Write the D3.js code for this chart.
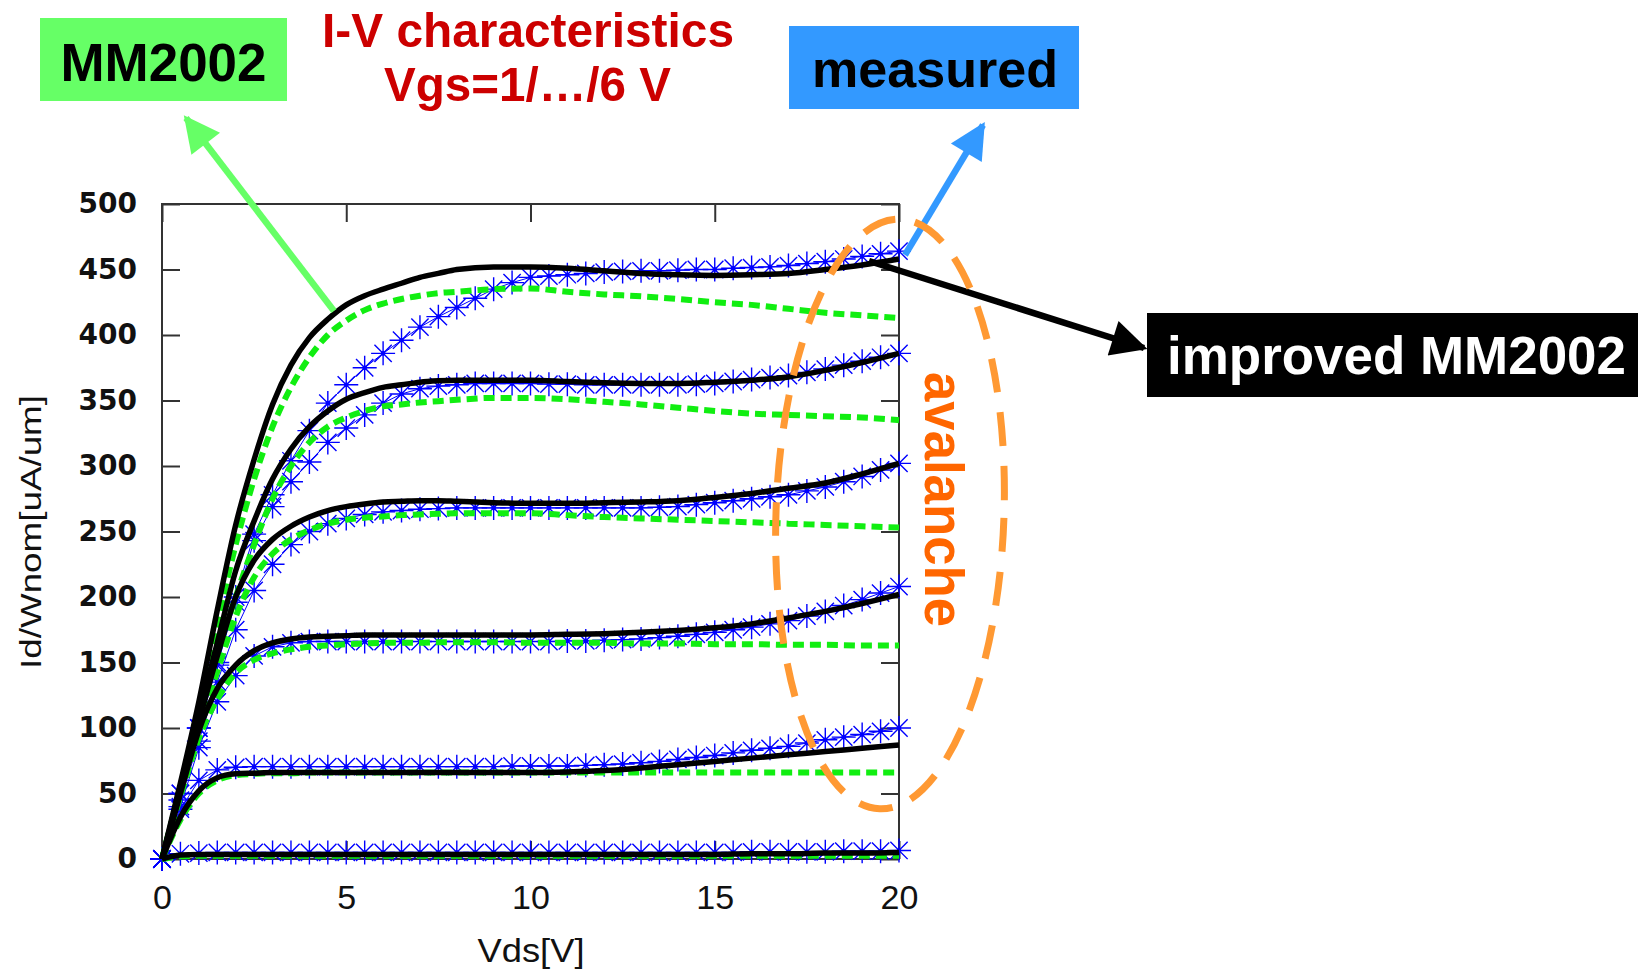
<!DOCTYPE html>
<html>
	<head>
		<title>I-V characteristics, MM2002 vs measured</title>
		<style>
* {
	margin: 0;
	padding: 0;
}
html,
body {
	width: 100%;
	height: 100%;
	background-color: #ffffff;
}
svg {
	display: block;
}
		</style>
	</head>
	<body>
		<div id="chart"></div>
		<script src="https://cdn.jsdelivr.net/npm/d3@7/dist/d3.min.js"></script>
		<script>

// measured points, every 0.5 V
var vdsMeas = [
	0, 0.5, 1, 1.5, 2, 2.5, 3, 3.5, 4, 4.5,
	5, 5.5, 6, 6.5, 7, 7.5, 8, 8.5, 9, 9.5,
	10, 10.5, 11, 11.5, 12, 12.5, 13, 13.5, 14, 14.5,
	15, 15.5, 16, 16.5, 17, 17.5, 18, 18.5, 19, 19.5, 20
];
var meas1 = [0, 4, 4.5, 5, 5, 5, 5, 5, 5, 5, 5, 5, 5, 5, 5, 5, 5, 5, 5, 5, 5, 5, 5, 5, 5, 5, 5, 5, 5, 5, 5, 5, 5.5, 5.5, 5.5, 5.5, 5.5, 6, 6, 6, 6.5];
var meas2 = [0, 38, 60, 68, 70, 70.5, 70.5, 70.5, 70.5, 70.5, 70.5, 70.5, 70.5, 70.5, 70.5, 70.5, 70.5, 70.5, 70.5, 71, 71, 71, 71, 71.5, 72, 72.5, 73.5, 74.5, 76, 77.5, 79, 81, 83, 84.5, 86, 88.5, 91, 93, 95, 97.5, 100];
var meas3 = [0, 40, 85, 120, 140, 155, 162, 165, 166, 166, 166, 166, 166, 166, 166, 166, 166, 166, 166, 166, 166, 166, 166.5, 166.5, 167, 167.5, 168, 169, 170, 171.5, 173, 175, 177, 179.5, 182, 185.5, 189, 193.5, 198, 203, 208];
var meas4 = [0, 45, 90, 135, 175, 205, 225, 240, 250, 256, 260, 263, 265, 266, 267, 267.5, 268, 268, 268, 268, 268, 268, 268, 268, 268, 268, 268, 268.5, 269, 270.5, 272, 273.5, 275, 276.5, 278, 281, 284, 288, 292, 297, 302];
var meas5 = [0, 50, 100, 148, 196, 243, 269, 288, 303, 318, 329, 339, 348, 355, 359, 361, 362, 363, 363, 363, 363, 362.5, 362.5, 362, 362, 362, 362, 362, 362, 362.5, 363, 364.5, 366, 367.5, 369, 371.5, 374, 377, 380, 383, 386];
var meas6 = [0, 50, 100, 150, 200, 248, 278, 304, 327, 348, 362, 375, 386, 396, 406, 414, 421, 428, 435, 440, 444, 445, 446, 447, 448, 448.5, 449, 449, 449.5, 450, 450, 451, 451.5, 452, 453, 454.5, 456, 458, 460, 462, 464];

// model curves
var vdsModel = [0, 0.5, 1, 1.5, 2, 2.5, 3, 3.5, 4, 4.5, 5, 5.5, 6, 6.5, 7, 7.5, 8, 9, 10, 11, 12, 13, 14, 15, 16, 17, 18, 19, 20];

var mm1 = [0, 2, 2.5, 2.5, 2.5, 2.5, 2.5, 2.5, 2.5, 2.5, 2.5, 2.5, 2.5, 2.5, 2.5, 2.5, 2.5, 2.5, 2.5, 2.5, 2.5, 2.5, 2.5, 2.5, 2.5, 2.5, 2.5, 2.5, 2.5];
var mm2 = [0, 30, 50, 60, 64, 65, 65.5, 65.5, 66, 66, 66, 66, 66, 66, 66, 66, 66, 66, 66, 66, 66, 66, 66, 66, 66, 66, 66, 66, 66];
var mm3 = [0, 48, 92, 122, 142, 152, 157, 160, 162, 163, 164, 164.5, 165, 165, 165, 165.5, 165.5, 165.5, 165, 165, 165, 164.5, 164.5, 164, 164, 163.5, 163.5, 163, 163];
var mm4 = [0, 50, 98, 143, 185, 215, 233, 244, 251, 256, 259, 260.5, 261.5, 262.5, 263, 263.5, 264, 264, 264, 262.5, 261, 260, 259, 258, 257, 256, 255, 254, 253];
var mm5 = [0, 53, 105, 155, 200, 240, 275, 300, 318, 330, 337, 342, 345.5, 347, 348.5, 349.5, 350.5, 352, 352, 351, 349, 347, 344.5, 342, 340, 339, 338, 337, 335];
var mm6 = [0, 55, 115, 180, 240, 290, 330, 360, 383, 400, 411, 419, 424, 427.5, 430, 432, 433, 435, 435.5, 433, 431, 429.5, 427.5, 425, 423, 420, 417, 415, 413];

var imp1 = [0, 3, 3.5, 3.5, 3.5, 3.5, 3.5, 3.5, 3.5, 3.5, 3.5, 3.5, 3.5, 3.5, 3.5, 3.5, 3.5, 3.5, 3.5, 3.5, 3.5, 3.5, 3.5, 3.5, 4, 4, 4.5, 4.5, 5];
var imp2 = [0, 32, 52, 62, 65, 65.5, 66, 66, 66, 66, 66, 66, 66, 66, 66, 66, 66, 66, 66, 66.5, 67.5, 69.5, 72, 74.5, 77, 79.5, 82, 84.5, 87];
var imp3 = [0, 50, 98, 130, 148, 159, 165, 168, 169.5, 170, 170.5, 171, 171, 171, 171, 171, 171, 171, 171, 171.5, 172, 173, 174.5, 176.5, 179.5, 184, 189, 195, 202];
var imp4 = [0, 52, 105, 155, 200, 228, 244, 254, 261, 266, 269, 271, 272.5, 273, 273.5, 273.5, 273, 272, 271.5, 271.5, 272, 272.5, 273.5, 276, 279, 283, 287, 294, 302];
var imp5 = [0, 55, 110, 165, 220, 258, 290, 313, 330, 342, 351, 356, 360, 362, 364, 365, 365.5, 365.5, 365.5, 364.5, 363.5, 363, 363, 364, 365.5, 368, 373, 379, 386];
var imp6 = [0, 58, 120, 190, 255, 305, 347, 377, 398, 412, 423, 430, 435, 439.5, 444, 447, 450, 452, 452, 451, 449, 447, 446, 445.5, 446, 447, 450, 453.5, 458];

var measured = [ meas1, meas2, meas3, meas4, meas5, meas6 ];
var mm2002 = [ mm1, mm2, mm3, mm4, mm5, mm6 ];
var improved = [ imp1, imp2, imp3, imp4, imp5, imp6 ];

var xTicks = [ 0, 5, 10, 15, 20 ];
var yTicks = [ 0, 50, 100, 150, 200, 250, 300, 350, 400, 450, 500 ];

var width = 1638;
var height = 974;
var plot = { left: 162, right: 899, top: 204, bottom: 859 };

var x = d3.scaleLinear().domain( [ 0, 20 ] ).range( [ plot.left, plot.right ] );
var y = d3.scaleLinear().domain( [ 0, 500 ] ).range( [ plot.bottom, plot.top ] );

var svg = d3.select( '#chart' ).append( 'svg' )
	.attr( 'width', width )
	.attr( 'height', height );

// gnuplot style asterisk: plus and cross
var asterisk = {
	draw: function ( context, size ) {
		var r = Math.sqrt( size ) / 2;
		var d = r * 0.72;
		context.moveTo( -r, 0 ); context.lineTo( r, 0 );
		context.moveTo( 0, -r ); context.lineTo( 0, r );
		context.moveTo( -d, -d ); context.lineTo( d, d );
		context.moveTo( -d, d ); context.lineTo( d, -d );
	}
};

// axes: inward ticks on all four sides
var axisColor = '#333333';

svg.append( 'g' )
	.attr( 'transform', 'translate(' + plot.left + ',0)' )
	.call( d3.axisLeft( y ).tickValues( yTicks ).tickSize( -18 ).tickSizeOuter( 0 ).tickPadding( 25 ) )
	.call( function ( g ) {
		g.select( '.domain' ).remove();
		g.selectAll( 'line' ).attr( 'stroke', axisColor ).attr( 'stroke-width', 2 );
		g.selectAll( 'text' )
			.attr( 'fill', '#111' )
			.style( 'font-family', '"DejaVu Sans", sans-serif' )
			.style( 'font-size', '28px' )
			.style( 'font-weight', 'bold' );
	} );

svg.append( 'g' )
	.attr( 'transform', 'translate(' + plot.right + ',0)' )
	.call( d3.axisRight( y ).tickValues( yTicks ).tickSize( -18 ).tickSizeOuter( 0 ).tickFormat( '' ) )
	.call( function ( g ) {
		g.select( '.domain' ).remove();
		g.selectAll( 'line' ).attr( 'stroke', axisColor ).attr( 'stroke-width', 2 );
	} );

svg.append( 'g' )
	.attr( 'transform', 'translate(0,' + plot.bottom + ')' )
	.call( d3.axisBottom( x ).tickValues( xTicks ).tickSize( -18 ).tickSizeOuter( 0 ).tickPadding( 26 ) )
	.call( function ( g ) {
		g.select( '.domain' ).remove();
		g.selectAll( 'line' ).attr( 'stroke', axisColor ).attr( 'stroke-width', 2 );
		g.selectAll( 'text' )
			.attr( 'fill', '#111' )
			.style( 'font-family', '"Liberation Sans", Arial, sans-serif' )
			.style( 'font-size', '34px' );
	} );

svg.append( 'g' )
	.attr( 'transform', 'translate(0,' + plot.top + ')' )
	.call( d3.axisTop( x ).tickValues( xTicks ).tickSize( -18 ).tickSizeOuter( 0 ).tickFormat( '' ) )
	.call( function ( g ) {
		g.select( '.domain' ).remove();
		g.selectAll( 'line' ).attr( 'stroke', axisColor ).attr( 'stroke-width', 2 );
	} );

svg.append( 'rect' )
	.attr( 'x', plot.left )
	.attr( 'y', plot.top )
	.attr( 'width', plot.right - plot.left )
	.attr( 'height', plot.bottom - plot.top )
	.attr( 'fill', 'none' )
	.attr( 'stroke', axisColor )
	.attr( 'stroke-width', 2 );

// axis titles
svg.append( 'text' )
	.attr( 'transform', 'translate(41,532) rotate(-90)' )
	.attr( 'text-anchor', 'middle' )
	.attr( 'textLength', 274 )
	.attr( 'lengthAdjust', 'spacingAndGlyphs' )
	.style( 'font-family', '"Liberation Sans", Arial, sans-serif' )
	.style( 'font-size', '30px' )
	.attr( 'fill', '#111' )
	.text( 'Id/Wnom[uA/um]' );

svg.append( 'text' )
	.attr( 'x', 531 )
	.attr( 'y', 962 )
	.attr( 'text-anchor', 'middle' )
	.attr( 'textLength', 107 )
	.attr( 'lengthAdjust', 'spacingAndGlyphs' )
	.style( 'font-family', '"Liberation Sans", Arial, sans-serif' )
	.style( 'font-size', '34px' )
	.attr( 'fill', '#111' )
	.text( 'Vds[V]' );

// series
var measLine = d3.line()
	.x( function ( d, i ) { return x( vdsMeas[i] ); } )
	.y( function ( d ) { return y( d ); } );

var modelLine = d3.line()
	.x( function ( d, i ) { return x( vdsModel[i] ); } )
	.y( function ( d ) { return y( d ); } )
	.curve( d3.curveMonotoneX );

var measG = svg.append( 'g' ).attr( 'class', 'measured' );

measG.selectAll( 'path.meas-line' )
	.data( measured )
	.enter()
	.append( 'path' )
	.attr( 'class', 'meas-line' )
	.attr( 'd', measLine )
	.attr( 'fill', 'none' )
	.attr( 'stroke', '#0000ff' )
	.attr( 'stroke-width', 1 );

var symbol = d3.symbol().type( asterisk ).size( 24 * 24 );

measG.selectAll( 'g.meas-pts' )
	.data( measured )
	.enter()
	.append( 'g' )
	.attr( 'class', 'meas-pts' )
	.selectAll( 'g' )
	.data( function ( d ) { return d; } )
	.enter()
	.append( 'g' )
	.attr( 'transform', function ( d, i ) {
		return 'translate(' + x( vdsMeas[i] ) + ',' + y( d ) + ')';
	} )
	.each( function () {
		var p = d3.select( this );
		p.append( 'path' )
			.attr( 'd', symbol )
			.attr( 'fill', 'none' )
			.attr( 'stroke', '#0000ff' )
			.attr( 'stroke-width', 1.4 );
		p.append( 'circle' )
			.attr( 'r', 2.3 )
			.attr( 'fill', '#0000ff' );
	} );

svg.append( 'g' ).attr( 'class', 'mm2002' )
	.selectAll( 'path' )
	.data( mm2002 )
	.enter()
	.append( 'path' )
	.attr( 'd', modelLine )
	.attr( 'fill', 'none' )
	.attr( 'stroke', '#11ee11' )
	.attr( 'stroke-width', 6 )
	.attr( 'stroke-dasharray', '11,6' );

svg.append( 'g' ).attr( 'class', 'improved' )
	.selectAll( 'path' )
	.data( improved )
	.enter()
	.append( 'path' )
	.attr( 'd', modelLine )
	.attr( 'fill', 'none' )
	.attr( 'stroke', '#000000' )
	.attr( 'stroke-width', 5.5 )
	.attr( 'stroke-linejoin', 'round' );

// annotations
var defs = svg.append( 'defs' );
[ [ 'head-green', '#66ff66' ], [ 'head-blue', '#3399ff' ], [ 'head-black', '#000000' ] ].forEach( function ( m ) {
	defs.append( 'marker' )
		.attr( 'id', m[0] )
		.attr( 'viewBox', '0 0 10 10' )
		.attr( 'refX', 9 )
		.attr( 'refY', 5 )
		.attr( 'markerUnits', 'userSpaceOnUse' )
		.attr( 'markerWidth', 40 )
		.attr( 'markerHeight', 36 )
		.attr( 'orient', 'auto' )
		.append( 'path' )
		.attr( 'd', 'M0,0L10,5L0,10Z' )
		.attr( 'fill', m[1] );
} );

var arrows = [
	{ x1: 334, y1: 311, x2: 186, y2: 118, color: '#66ff66', head: 'head-green' },
	{ x1: 905, y1: 255, x2: 983, y2: 125, color: '#3399ff', head: 'head-blue' },
	{ x1: 869, y1: 261, x2: 1144, y2: 348, color: '#000000', head: 'head-black' }
];

svg.selectAll( 'line.arrow' )
	.data( arrows )
	.enter()
	.append( 'line' )
	.attr( 'class', 'arrow' )
	.attr( 'x1', function ( d ) { return d.x1; } )
	.attr( 'y1', function ( d ) { return d.y1; } )
	.attr( 'x2', function ( d ) { return d.x2; } )
	.attr( 'y2', function ( d ) { return d.y2; } )
	.attr( 'stroke', function ( d ) { return d.color; } )
	.attr( 'stroke-width', 6.5 )
	.attr( 'marker-end', function ( d ) { return 'url(#' + d.head + ')'; } );

svg.append( 'ellipse' )
	.attr( 'transform', 'translate(890,514) rotate(2)' )
	.attr( 'rx', 114 )
	.attr( 'ry', 295 )
	.attr( 'fill', 'none' )
	.attr( 'stroke', '#ff9933' )
	.attr( 'stroke-width', 7 )
	.attr( 'stroke-dasharray', '34,20' );

svg.append( 'text' )
	.attr( 'transform', 'translate(925,372) rotate(90)' )
	.attr( 'textLength', 255 )
	.attr( 'lengthAdjust', 'spacingAndGlyphs' )
	.style( 'font-family', '"Liberation Sans", Arial, sans-serif' )
	.style( 'font-size', '55px' )
	.style( 'font-weight', 'bold' )
	.attr( 'fill', '#ff6600' )
	.text( 'avalanche' );

var boxes = [
	{ x: 40, y: 18, w: 247, h: 83, fill: '#66ff66', color: '#000000', text: 'MM2002', tx: 163.5, ty: 81, len: 206, size: 53 },
	{ x: 789, y: 26, w: 290, h: 83, fill: '#3399ff', color: '#000000', text: 'measured', tx: 935, ty: 87, len: 246, size: 52 },
	{ x: 1147, y: 313, w: 491, h: 84, fill: '#000000', color: '#ffffff', text: 'improved MM2002', tx: 1396.5, ty: 374, len: 459, size: 53 }
];

var boxG = svg.selectAll( 'g.label-box' )
	.data( boxes )
	.enter()
	.append( 'g' )
	.attr( 'class', 'label-box' );

boxG.append( 'rect' )
	.attr( 'x', function ( d ) { return d.x; } )
	.attr( 'y', function ( d ) { return d.y; } )
	.attr( 'width', function ( d ) { return d.w; } )
	.attr( 'height', function ( d ) { return d.h; } )
	.attr( 'fill', function ( d ) { return d.fill; } );

boxG.append( 'text' )
	.attr( 'x', function ( d ) { return d.tx; } )
	.attr( 'y', function ( d ) { return d.ty; } )
	.attr( 'text-anchor', 'middle' )
	.attr( 'textLength', function ( d ) { return d.len; } )
	.attr( 'lengthAdjust', 'spacingAndGlyphs' )
	.style( 'font-family', '"Liberation Sans", Arial, sans-serif' )
	.style( 'font-size', function ( d ) { return d.size + 'px'; } )
	.style( 'font-weight', 'bold' )
	.attr( 'fill', function ( d ) { return d.color; } )
	.text( function ( d ) { return d.text; } );

var titleLines = [
	{ text: 'I-V characteristics', x: 528, y: 47, len: 412 },
	{ text: 'Vgs=1/\u2026/6 V', x: 527.5, y: 101, len: 287 }
];

svg.selectAll( 'text.title' )
	.data( titleLines )
	.enter()
	.append( 'text' )
	.attr( 'class', 'title' )
	.attr( 'x', function ( d ) { return d.x; } )
	.attr( 'y', function ( d ) { return d.y; } )
	.attr( 'text-anchor', 'middle' )
	.attr( 'textLength', function ( d ) { return d.len; } )
	.attr( 'lengthAdjust', 'spacingAndGlyphs' )
	.style( 'font-family', '"Liberation Sans", Arial, sans-serif' )
	.style( 'font-size', '49px' )
	.style( 'font-weight', 'bold' )
	.attr( 'fill', '#cc0000' )
	.text( function ( d ) { return d.text; } );

		</script>
	</body>
</html>
